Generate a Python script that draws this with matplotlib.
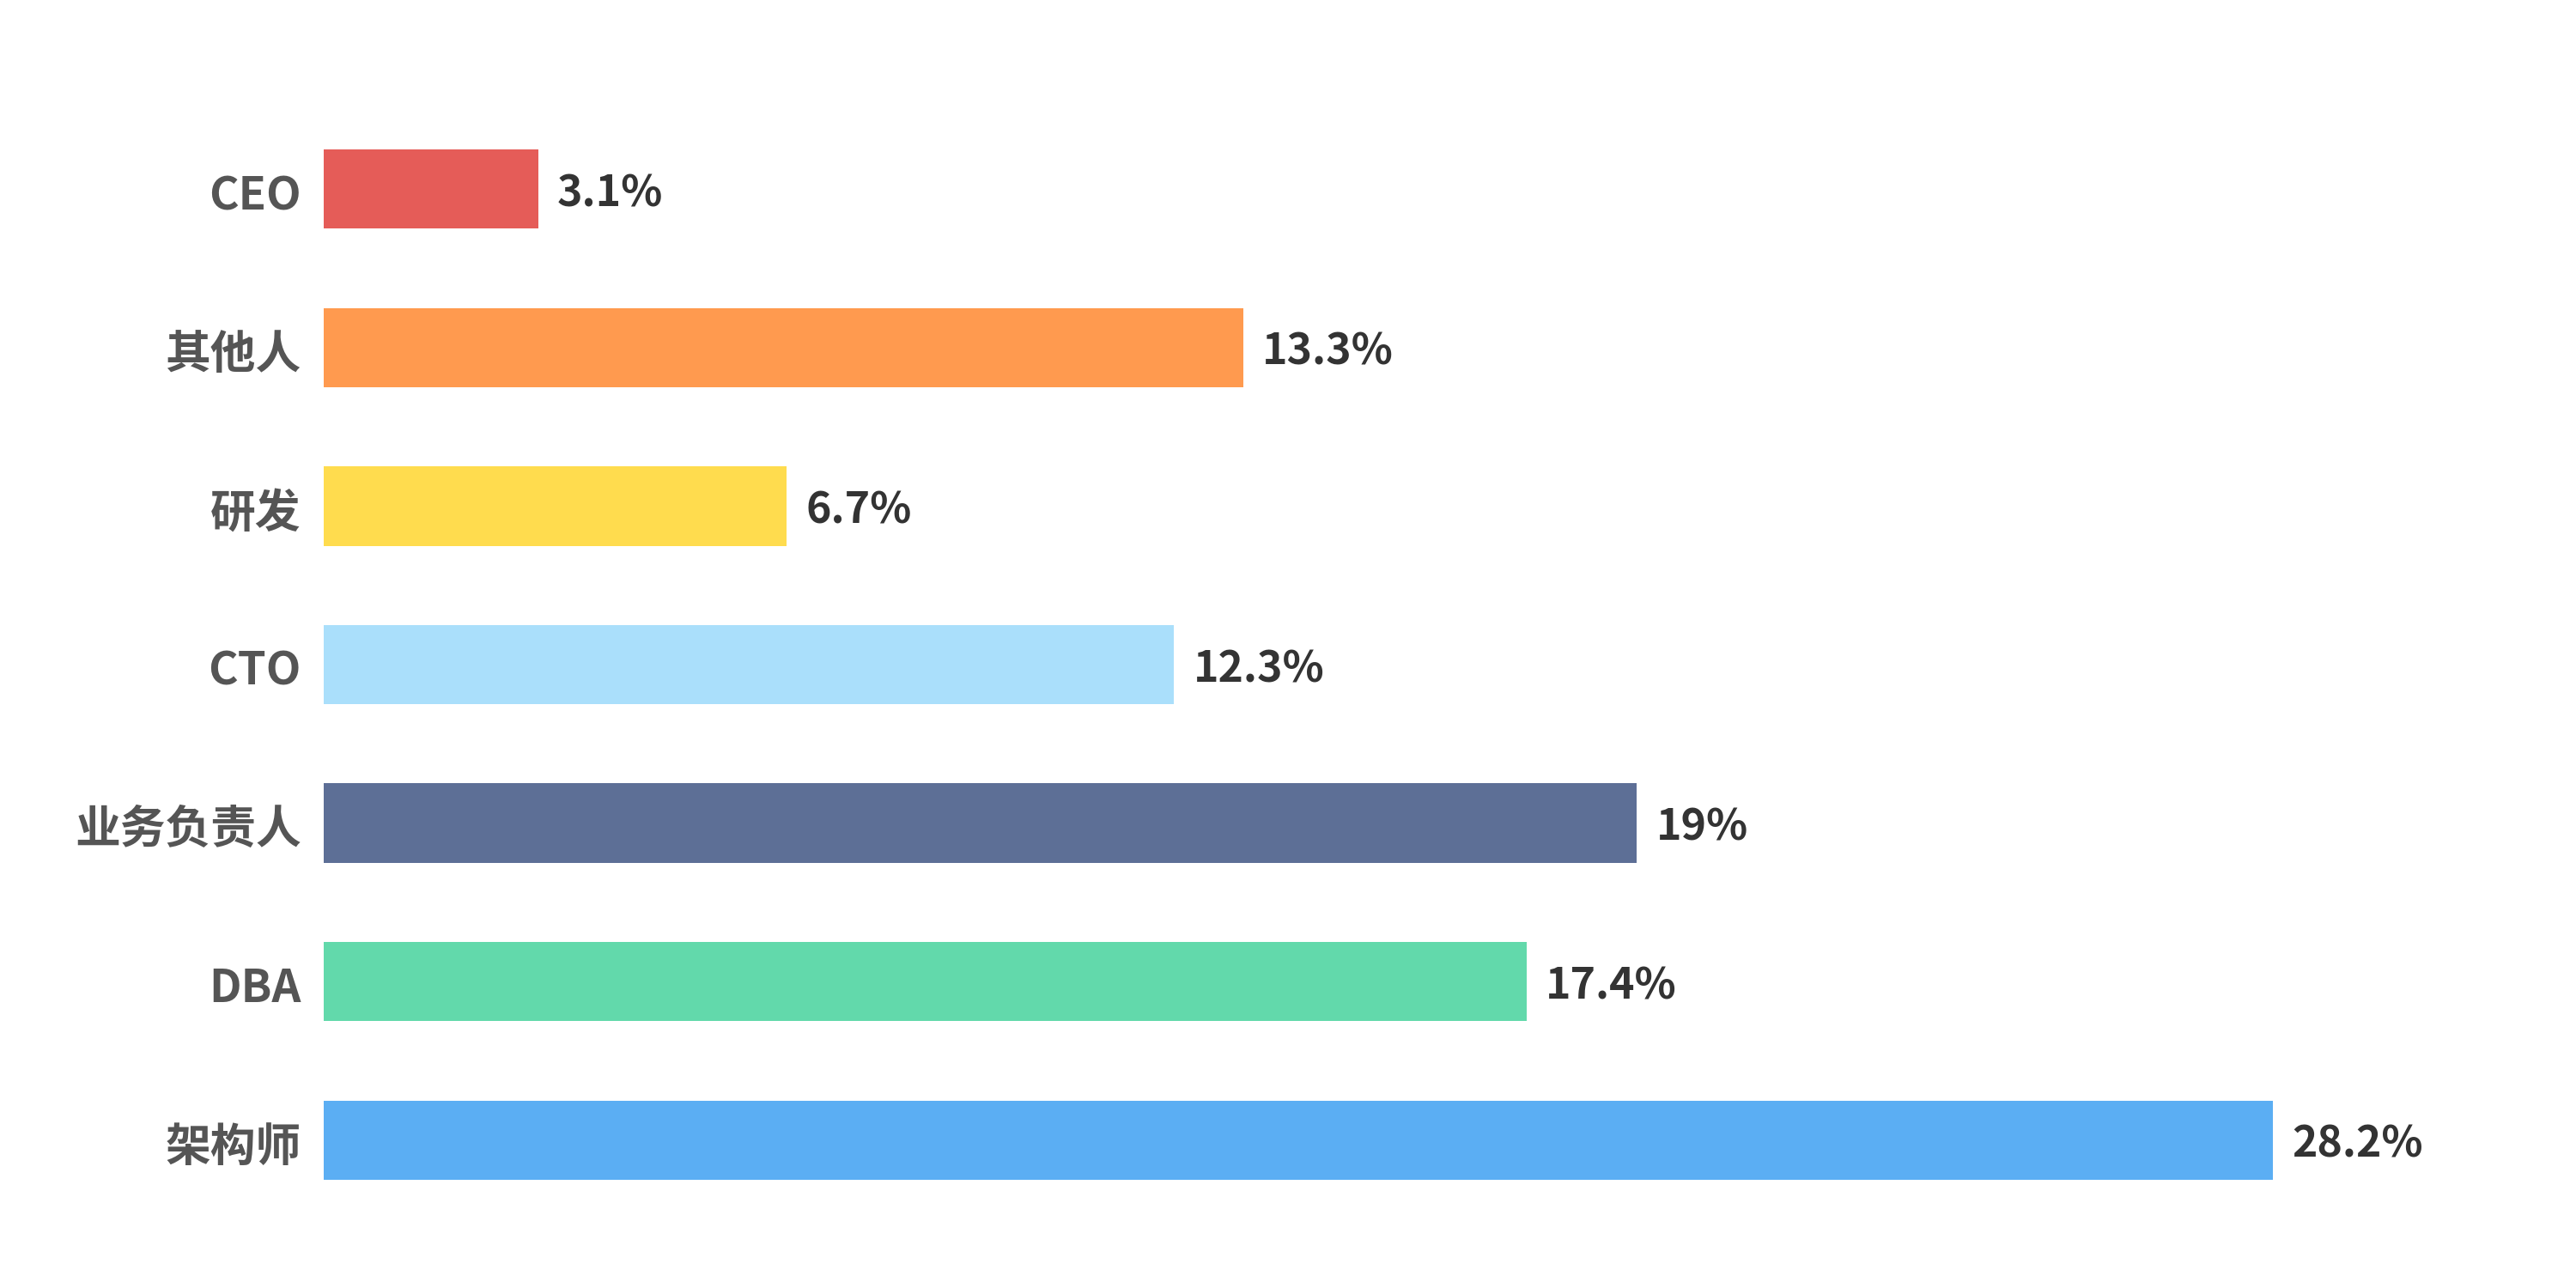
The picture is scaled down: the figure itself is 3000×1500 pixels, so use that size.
import matplotlib.pyplot as plt
import matplotlib.transforms as mtransforms

plt.rcParams['font.family'] = ['Noto Sans CJK SC', 'DejaVu Sans']

roles = ["CEO", "其他人", "研发", "CTO", "业务负责人", "DBA", "架构师"]
shares = [3.1, 13.3, 6.7, 12.3, 19, 17.4, 28.2]
share_labels = ["3.1%", "13.3%", "6.7%", "12.3%", "19%", "17.4%", "28.2%"]
colors = ["#E55C58", "#FF9A4F", "#FFDC4E", "#AADFFB", "#5D6F96", "#62D9AB", "#5BAEF3"]

fig = plt.figure(figsize=(30, 15), dpi=100)
ax = fig.add_axes([0.1257, 0.0533, 0.8543, 0.8614])

pos = list(range(len(roles)))
bars = ax.barh(pos, shares, height=0.5, color=colors)

for b, lab in zip(bars, share_labels):
    ax.annotate(lab, (b.get_width(), b.get_y() + b.get_height() / 2),
                xytext=(16, -4), textcoords="offset points",
                va="center", ha="left", fontsize=36, fontweight="bold",
                color="#333333")

# category labels, drawn left of the axis
lab_trans = mtransforms.blended_transform_factory(ax.transAxes, ax.transData)
for p, r in zip(pos, roles):
    ax.annotate(r, (0, p), xytext=(-19, -2), textcoords="offset points",
                xycoords=lab_trans,
                va="center_baseline", ha="right", fontsize=38, fontweight="bold",
                color="#555555", annotation_clip=False)

ax.set_yticks([])
ax.set_xticks([])
ax.set_xlim(0, 31.84)
ax.set_ylim(6.5, -0.5)
for s in ax.spines.values():
    s.set_visible(False)

fig.savefig("out.png", dpi=100, facecolor="white")
